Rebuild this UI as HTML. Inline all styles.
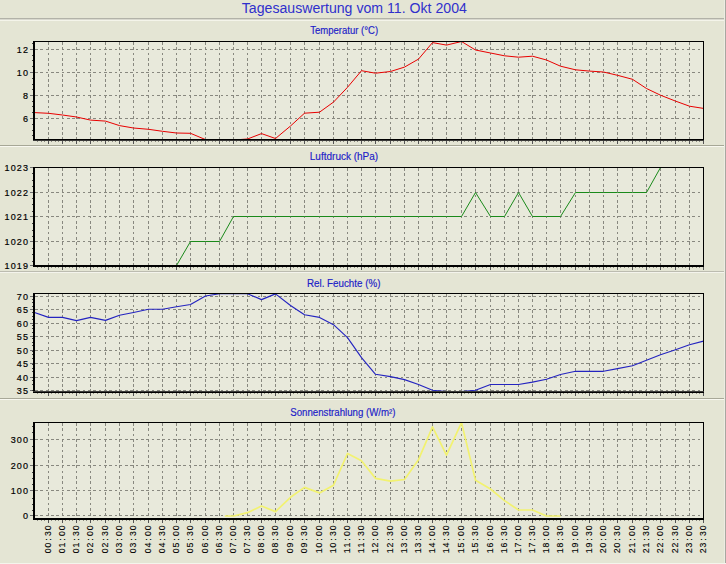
<!DOCTYPE html><html><head><meta charset="utf-8"><title>Tagesauswertung</title><style>
html,body{margin:0;padding:0;}body{width:726px;height:564px;overflow:hidden;background:#E4E5D4;}
svg{display:block;}
.mt{font-family:"Liberation Sans",Arial,sans-serif;font-size:14.7px;fill:#3030CC;}
.ct{font-family:"Liberation Sans",Arial,sans-serif;font-size:10px;fill:#2020C8;stroke:#2020C8;stroke-width:0.15px;}
.yl{font-family:"Liberation Sans",Arial,sans-serif;font-size:9.5px;fill:#000;stroke:#000;stroke-width:0.2px;}
.xl{font-family:"Liberation Sans",Arial,sans-serif;font-size:9.4px;fill:#000;stroke:#000;stroke-width:0.12px;}
</style></head><body>
<svg width="726" height="564" viewBox="0 0 726 564">
<rect width="726" height="564" fill="#E4E5D4"/>
<rect x="0" y="18" width="726" height="1" fill="#B2B2A8"/>
<rect x="0" y="19" width="726" height="1" fill="#D8D8CE"/>
<rect x="0" y="20" width="726" height="1" fill="#F4F4EA"/>
<rect x="0" y="145" width="726" height="1" fill="#A6A796"/>
<rect x="0" y="146" width="726" height="1" fill="#F8F8F0"/>
<rect x="0" y="271" width="726" height="1" fill="#BCBCB0"/>
<rect x="0" y="272" width="726" height="1" fill="#F4F4EC"/>
<rect x="0" y="398" width="726" height="1" fill="#A8A898"/>
<rect x="0" y="399" width="726" height="1" fill="#F8F8F0"/>
<rect x="724" y="0" width="1" height="564" fill="#ECECE2"/>
<rect x="725" y="0" width="1" height="564" fill="#A8A8A0"/>
<rect x="0" y="563" width="726" height="1" fill="#F4F4EC"/>
<text class="mt" transform="translate(354.3 13) scale(0.962 1)" x="0" y="0" text-anchor="middle">Tagesauswertung vom 11. Okt 2004</text>
<rect x="35" y="42" width="668" height="97" fill="#E8E9DB"/>
<path d="M48.5 42V139M62.5 42V139M76.5 42V139M90.5 42V139M105.5 42V139M119.5 42V139M133.5 42V139M148.5 42V139M162.5 42V139M176.5 42V139M190.5 42V139M205.5 42V139M219.5 42V139M233.5 42V139M247.5 42V139M261.5 42V139M275.5 42V139M290.5 42V139M304.5 42V139M319.5 42V139M333.5 42V139M347.5 42V139M361.5 42V139M375.5 42V139M390.5 42V139M404.5 42V139M418.5 42V139M432.5 42V139M446.5 42V139M461.5 42V139M475.5 42V139M490.5 42V139M504.5 42V139M518.5 42V139M532.5 42V139M546.5 42V139M560.5 42V139M575.5 42V139M589.5 42V139M603.5 42V139M617.5 42V139M632.5 42V139M646.5 42V139M660.5 42V139M675.5 42V139M689.5 42V139M35 49.5H703M35 72.5H703M35 95.5H703M35 118.5H703" stroke="#88887F" stroke-width="1" stroke-dasharray="2.7 2.6" fill="none" shape-rendering="crispEdges"/>
<clipPath id="c41"><rect x="33" y="41" width="671" height="100"/></clipPath>
<polyline clip-path="url(#c41)" points="34.50,112.60 48.50,113.30 62.50,115.00 76.50,117.00 90.50,120.10 105.50,121.10 119.50,125.60 133.50,128.00 148.50,129.30 162.50,131.30 176.50,133.00 190.50,133.30 205.50,139.60 219.50,140.00 233.50,140.00 247.50,139.00 261.50,133.60 275.50,138.50 290.50,126.00 304.50,113.20 319.50,112.20 333.50,102.10 347.50,87.30 361.50,70.70 375.50,73.20 390.50,71.50 404.50,67.10 418.50,59.10 432.50,42.60 446.50,45.10 461.50,41.50 475.50,50.00 490.50,53.00 504.50,55.80 518.50,57.20 532.50,56.20 546.50,60.00 560.50,66.20 575.50,69.80 589.50,71.10 603.50,72.00 617.50,75.30 632.50,79.30 646.50,88.50 660.50,95.20 675.50,101.10 689.50,106.20 703.50,108.40" stroke="#E80000" stroke-width="1" fill="none" stroke-linejoin="round"/>
<rect x="33" y="41" width="671" height="1" fill="#000000"/>
<rect x="703" y="41" width="1" height="100" fill="#000000"/>
<rect x="33" y="41" width="2" height="100" fill="#000000"/>
<rect x="33" y="139" width="671" height="1" fill="#000"/>
<rect x="33" y="140" width="671" height="1" fill="#3A3A38"/>
<path d="M48.5 141V144M62.5 141V144M76.5 141V144M90.5 141V144M105.5 141V144M119.5 141V144M133.5 141V144M148.5 141V144M162.5 141V144M176.5 141V144M190.5 141V144M205.5 141V144M219.5 141V144M233.5 141V144M247.5 141V144M261.5 141V144M275.5 141V144M290.5 141V144M304.5 141V144M319.5 141V144M333.5 141V144M347.5 141V144M361.5 141V144M375.5 141V144M390.5 141V144M404.5 141V144M418.5 141V144M432.5 141V144M446.5 141V144M461.5 141V144M475.5 141V144M490.5 141V144M504.5 141V144M518.5 141V144M532.5 141V144M546.5 141V144M560.5 141V144M575.5 141V144M589.5 141V144M603.5 141V144M617.5 141V144M632.5 141V144M646.5 141V144M660.5 141V144M675.5 141V144M689.5 141V144M703.5 141V144" stroke="#555" stroke-width="1" fill="none" shape-rendering="crispEdges"/>
<path d="M37.5 141V142M41.5 141V142M44.5 141V142M51.5 141V142M55.5 141V142M58.5 141V142M65.5 141V142M69.5 141V142M72.5 141V142M79.5 141V142M83.5 141V142M86.5 141V142M93.5 141V142M97.5 141V142M101.5 141V142M108.5 141V142M112.5 141V142M115.5 141V142M122.5 141V142M126.5 141V142M129.5 141V142M136.5 141V142M140.5 141V142M144.5 141V142M151.5 141V142M155.5 141V142M158.5 141V142M165.5 141V142M169.5 141V142M172.5 141V142M179.5 141V142M183.5 141V142M186.5 141V142M193.5 141V142M197.5 141V142M201.5 141V142M208.5 141V142M212.5 141V142M215.5 141V142M222.5 141V142M226.5 141V142M229.5 141V142M236.5 141V142M240.5 141V142M243.5 141V142M250.5 141V142M254.5 141V142M257.5 141V142M264.5 141V142M268.5 141V142M271.5 141V142M278.5 141V142M282.5 141V142M286.5 141V142M293.5 141V142M297.5 141V142M300.5 141V142M307.5 141V142M311.5 141V142M315.5 141V142M322.5 141V142M326.5 141V142M329.5 141V142M336.5 141V142M340.5 141V142M343.5 141V142M350.5 141V142M354.5 141V142M357.5 141V142M364.5 141V142M368.5 141V142M371.5 141V142M378.5 141V142M382.5 141V142M386.5 141V142M393.5 141V142M397.5 141V142M400.5 141V142M407.5 141V142M411.5 141V142M414.5 141V142M421.5 141V142M425.5 141V142M428.5 141V142M435.5 141V142M439.5 141V142M442.5 141V142M449.5 141V142M453.5 141V142M457.5 141V142M464.5 141V142M468.5 141V142M471.5 141V142M478.5 141V142M482.5 141V142M486.5 141V142M493.5 141V142M497.5 141V142M500.5 141V142M507.5 141V142M511.5 141V142M514.5 141V142M521.5 141V142M525.5 141V142M528.5 141V142M535.5 141V142M539.5 141V142M542.5 141V142M549.5 141V142M553.5 141V142M556.5 141V142M563.5 141V142M567.5 141V142M571.5 141V142M578.5 141V142M582.5 141V142M585.5 141V142M592.5 141V142M596.5 141V142M599.5 141V142M606.5 141V142M610.5 141V142M613.5 141V142M620.5 141V142M624.5 141V142M628.5 141V142M635.5 141V142M639.5 141V142M642.5 141V142M649.5 141V142M653.5 141V142M656.5 141V142M663.5 141V142M667.5 141V142M671.5 141V142M678.5 141V142M682.5 141V142M685.5 141V142M692.5 141V142M696.5 141V142M699.5 141V142" stroke="#8A8A80" stroke-width="1" fill="none" shape-rendering="crispEdges"/>
<text class="yl" transform="translate(0 52.9) scale(0.95 1)" x="17.68 24.11">12</text>
<text class="yl" transform="translate(0 75.9) scale(0.95 1)" x="17.68 24.11">10</text>
<text class="yl" transform="translate(0 98.9) scale(0.95 1)" x="24.11">8</text>
<text class="yl" transform="translate(0 121.9) scale(0.95 1)" x="24.11">6</text>
<path d="M30 49.5H33M30 72.5H33M30 95.5H33M30 118.5H33" stroke="#707070" stroke-width="1" fill="none" shape-rendering="crispEdges"/>
<path d="M32 43.5H33M32 55.5H33M32 60.5H33M32 66.5H33M32 78.5H33M32 84.5H33M32 89.5H33M32 101.5H33M32 106.5H33M32 112.5H33M32 124.5H33M32 130.5H33M32 135.5H33" stroke="#404040" stroke-width="1" fill="none" shape-rendering="crispEdges"/>
<text class="ct" transform="translate(344.2 33.5) scale(0.955 1)" x="0" y="0" text-anchor="middle">Temperatur (°C)</text>
<rect x="35" y="168" width="668" height="97" fill="#E8E9DB"/>
<path d="M48.5 168V265M62.5 168V265M76.5 168V265M90.5 168V265M105.5 168V265M119.5 168V265M133.5 168V265M148.5 168V265M162.5 168V265M176.5 168V265M190.5 168V265M205.5 168V265M219.5 168V265M233.5 168V265M247.5 168V265M261.5 168V265M275.5 168V265M290.5 168V265M304.5 168V265M319.5 168V265M333.5 168V265M347.5 168V265M361.5 168V265M375.5 168V265M390.5 168V265M404.5 168V265M418.5 168V265M432.5 168V265M446.5 168V265M461.5 168V265M475.5 168V265M490.5 168V265M504.5 168V265M518.5 168V265M532.5 168V265M546.5 168V265M560.5 168V265M575.5 168V265M589.5 168V265M603.5 168V265M617.5 168V265M632.5 168V265M646.5 168V265M660.5 168V265M675.5 168V265M689.5 168V265M35 192.5H703M35 216.5H703M35 241.5H703" stroke="#88887F" stroke-width="1" stroke-dasharray="2.7 2.6" fill="none" shape-rendering="crispEdges"/>
<clipPath id="c167"><rect x="33" y="167" width="671" height="100"/></clipPath>
<polyline clip-path="url(#c167)" points="34.50,265.50 48.50,265.50 62.50,265.50 76.50,265.50 90.50,265.50 105.50,265.50 119.50,265.50 133.50,265.50 148.50,265.50 162.50,265.50 176.50,265.50 190.50,241.50 205.50,241.50 219.50,241.50 233.50,216.50 247.50,216.50 261.50,216.50 275.50,216.50 290.50,216.50 304.50,216.50 319.50,216.50 333.50,216.50 347.50,216.50 361.50,216.50 375.50,216.50 390.50,216.50 404.50,216.50 418.50,216.50 432.50,216.50 446.50,216.50 461.50,216.50 475.50,192.50 490.50,216.50 504.50,216.50 518.50,192.50 532.50,216.50 546.50,216.50 560.50,216.50 575.50,192.50 589.50,192.50 603.50,192.50 617.50,192.50 632.50,192.50 646.50,192.50 660.50,167.50 675.50,167.50 689.50,167.50 703.50,167.50" stroke="#1A8A1A" stroke-width="1" fill="none" stroke-linejoin="round"/>
<rect x="33" y="167" width="671" height="1" fill="#000000"/>
<rect x="703" y="167" width="1" height="100" fill="#000000"/>
<rect x="33" y="167" width="2" height="100" fill="#000000"/>
<rect x="33" y="265" width="671" height="1" fill="#000000"/>
<rect x="33" y="266" width="671" height="1" fill="#000000"/>
<path d="M48.5 267V270M62.5 267V270M76.5 267V270M90.5 267V270M105.5 267V270M119.5 267V270M133.5 267V270M148.5 267V270M162.5 267V270M176.5 267V270M190.5 267V270M205.5 267V270M219.5 267V270M233.5 267V270M247.5 267V270M261.5 267V270M275.5 267V270M290.5 267V270M304.5 267V270M319.5 267V270M333.5 267V270M347.5 267V270M361.5 267V270M375.5 267V270M390.5 267V270M404.5 267V270M418.5 267V270M432.5 267V270M446.5 267V270M461.5 267V270M475.5 267V270M490.5 267V270M504.5 267V270M518.5 267V270M532.5 267V270M546.5 267V270M560.5 267V270M575.5 267V270M589.5 267V270M603.5 267V270M617.5 267V270M632.5 267V270M646.5 267V270M660.5 267V270M675.5 267V270M689.5 267V270M703.5 267V270" stroke="#555" stroke-width="1" fill="none" shape-rendering="crispEdges"/>
<path d="M37.5 267V268M41.5 267V268M44.5 267V268M51.5 267V268M55.5 267V268M58.5 267V268M65.5 267V268M69.5 267V268M72.5 267V268M79.5 267V268M83.5 267V268M86.5 267V268M93.5 267V268M97.5 267V268M101.5 267V268M108.5 267V268M112.5 267V268M115.5 267V268M122.5 267V268M126.5 267V268M129.5 267V268M136.5 267V268M140.5 267V268M144.5 267V268M151.5 267V268M155.5 267V268M158.5 267V268M165.5 267V268M169.5 267V268M172.5 267V268M179.5 267V268M183.5 267V268M186.5 267V268M193.5 267V268M197.5 267V268M201.5 267V268M208.5 267V268M212.5 267V268M215.5 267V268M222.5 267V268M226.5 267V268M229.5 267V268M236.5 267V268M240.5 267V268M243.5 267V268M250.5 267V268M254.5 267V268M257.5 267V268M264.5 267V268M268.5 267V268M271.5 267V268M278.5 267V268M282.5 267V268M286.5 267V268M293.5 267V268M297.5 267V268M300.5 267V268M307.5 267V268M311.5 267V268M315.5 267V268M322.5 267V268M326.5 267V268M329.5 267V268M336.5 267V268M340.5 267V268M343.5 267V268M350.5 267V268M354.5 267V268M357.5 267V268M364.5 267V268M368.5 267V268M371.5 267V268M378.5 267V268M382.5 267V268M386.5 267V268M393.5 267V268M397.5 267V268M400.5 267V268M407.5 267V268M411.5 267V268M414.5 267V268M421.5 267V268M425.5 267V268M428.5 267V268M435.5 267V268M439.5 267V268M442.5 267V268M449.5 267V268M453.5 267V268M457.5 267V268M464.5 267V268M468.5 267V268M471.5 267V268M478.5 267V268M482.5 267V268M486.5 267V268M493.5 267V268M497.5 267V268M500.5 267V268M507.5 267V268M511.5 267V268M514.5 267V268M521.5 267V268M525.5 267V268M528.5 267V268M535.5 267V268M539.5 267V268M542.5 267V268M549.5 267V268M553.5 267V268M556.5 267V268M563.5 267V268M567.5 267V268M571.5 267V268M578.5 267V268M582.5 267V268M585.5 267V268M592.5 267V268M596.5 267V268M599.5 267V268M606.5 267V268M610.5 267V268M613.5 267V268M620.5 267V268M624.5 267V268M628.5 267V268M635.5 267V268M639.5 267V268M642.5 267V268M649.5 267V268M653.5 267V268M656.5 267V268M663.5 267V268M667.5 267V268M671.5 267V268M678.5 267V268M682.5 267V268M685.5 267V268M692.5 267V268M696.5 267V268M699.5 267V268" stroke="#8A8A80" stroke-width="1" fill="none" shape-rendering="crispEdges"/>
<text class="yl" transform="translate(0 170.9) scale(0.95 1)" x="4.84 11.26 17.68 24.11">1023</text>
<text class="yl" transform="translate(0 195.9) scale(0.95 1)" x="4.84 11.26 17.68 24.11">1022</text>
<text class="yl" transform="translate(0 219.9) scale(0.95 1)" x="4.84 11.26 17.68 24.11">1021</text>
<text class="yl" transform="translate(0 244.9) scale(0.95 1)" x="4.84 11.26 17.68 24.11">1020</text>
<text class="yl" transform="translate(0 268.9) scale(0.95 1)" x="4.84 11.26 17.68 24.11">1019</text>
<path d="M30 167.5H33M30 192.5H33M30 216.5H33M30 241.5H33M30 265.5H33" stroke="#707070" stroke-width="1" fill="none" shape-rendering="crispEdges"/>
<path d="M32 173.5H33M32 180.5H33M32 186.5H33M32 198.5H33M32 204.5H33M32 211.5H33M32 223.5H33M32 230.5H33M32 236.5H33M32 248.5H33M32 254.5H33M32 261.5H33" stroke="#404040" stroke-width="1" fill="none" shape-rendering="crispEdges"/>
<text class="ct" transform="translate(344.0 160.0) scale(1.000 1)" x="0" y="0" text-anchor="middle">Luftdruck (hPa)</text>
<rect x="35" y="294" width="668" height="97" fill="#E8E9DB"/>
<path d="M48.5 294V391M62.5 294V391M76.5 294V391M90.5 294V391M105.5 294V391M119.5 294V391M133.5 294V391M148.5 294V391M162.5 294V391M176.5 294V391M190.5 294V391M205.5 294V391M219.5 294V391M233.5 294V391M247.5 294V391M261.5 294V391M275.5 294V391M290.5 294V391M304.5 294V391M319.5 294V391M333.5 294V391M347.5 294V391M361.5 294V391M375.5 294V391M390.5 294V391M404.5 294V391M418.5 294V391M432.5 294V391M446.5 294V391M461.5 294V391M475.5 294V391M490.5 294V391M504.5 294V391M518.5 294V391M532.5 294V391M546.5 294V391M560.5 294V391M575.5 294V391M589.5 294V391M603.5 294V391M617.5 294V391M632.5 294V391M646.5 294V391M660.5 294V391M675.5 294V391M689.5 294V391M35 296.5H703M35 309.5H703M35 323.5H703M35 336.5H703M35 350.5H703M35 363.5H703M35 377.5H703M35 390.5H703" stroke="#88887F" stroke-width="1" stroke-dasharray="2.7 2.6" fill="none" shape-rendering="crispEdges"/>
<clipPath id="c293"><rect x="33" y="293" width="671" height="100"/></clipPath>
<polyline clip-path="url(#c293)" points="34.50,312.50 48.50,317.40 62.50,317.40 76.50,320.60 90.50,317.40 105.50,320.40 119.50,315.30 133.50,312.50 148.50,309.30 162.50,309.20 176.50,306.70 190.50,304.50 205.50,296.00 219.50,293.80 233.50,293.60 247.50,293.80 261.50,299.60 275.50,293.90 290.50,305.50 304.50,314.80 319.50,317.40 333.50,324.70 347.50,337.60 361.50,357.70 375.50,374.30 390.50,376.60 404.50,379.60 418.50,384.50 432.50,390.30 446.50,391.50 461.50,391.50 475.50,390.30 490.50,384.50 504.50,384.50 518.50,384.50 532.50,382.10 546.50,379.30 560.50,374.50 575.50,371.30 589.50,371.30 603.50,371.30 617.50,368.60 632.50,365.70 646.50,360.20 660.50,354.70 675.50,349.70 689.50,344.80 703.50,341.10" stroke="#2424C0" stroke-width="1.15" fill="none" stroke-linejoin="round"/>
<rect x="33" y="293" width="671" height="1" fill="#000000"/>
<rect x="703" y="293" width="1" height="100" fill="#000000"/>
<rect x="33" y="293" width="2" height="100" fill="#000000"/>
<rect x="33" y="391" width="671" height="1" fill="#3A3A38"/>
<rect x="33" y="392" width="671" height="1" fill="#000"/>
<path d="M48.5 393V396M62.5 393V396M76.5 393V396M90.5 393V396M105.5 393V396M119.5 393V396M133.5 393V396M148.5 393V396M162.5 393V396M176.5 393V396M190.5 393V396M205.5 393V396M219.5 393V396M233.5 393V396M247.5 393V396M261.5 393V396M275.5 393V396M290.5 393V396M304.5 393V396M319.5 393V396M333.5 393V396M347.5 393V396M361.5 393V396M375.5 393V396M390.5 393V396M404.5 393V396M418.5 393V396M432.5 393V396M446.5 393V396M461.5 393V396M475.5 393V396M490.5 393V396M504.5 393V396M518.5 393V396M532.5 393V396M546.5 393V396M560.5 393V396M575.5 393V396M589.5 393V396M603.5 393V396M617.5 393V396M632.5 393V396M646.5 393V396M660.5 393V396M675.5 393V396M689.5 393V396M703.5 393V396" stroke="#555" stroke-width="1" fill="none" shape-rendering="crispEdges"/>
<path d="M37.5 393V394M41.5 393V394M44.5 393V394M51.5 393V394M55.5 393V394M58.5 393V394M65.5 393V394M69.5 393V394M72.5 393V394M79.5 393V394M83.5 393V394M86.5 393V394M93.5 393V394M97.5 393V394M101.5 393V394M108.5 393V394M112.5 393V394M115.5 393V394M122.5 393V394M126.5 393V394M129.5 393V394M136.5 393V394M140.5 393V394M144.5 393V394M151.5 393V394M155.5 393V394M158.5 393V394M165.5 393V394M169.5 393V394M172.5 393V394M179.5 393V394M183.5 393V394M186.5 393V394M193.5 393V394M197.5 393V394M201.5 393V394M208.5 393V394M212.5 393V394M215.5 393V394M222.5 393V394M226.5 393V394M229.5 393V394M236.5 393V394M240.5 393V394M243.5 393V394M250.5 393V394M254.5 393V394M257.5 393V394M264.5 393V394M268.5 393V394M271.5 393V394M278.5 393V394M282.5 393V394M286.5 393V394M293.5 393V394M297.5 393V394M300.5 393V394M307.5 393V394M311.5 393V394M315.5 393V394M322.5 393V394M326.5 393V394M329.5 393V394M336.5 393V394M340.5 393V394M343.5 393V394M350.5 393V394M354.5 393V394M357.5 393V394M364.5 393V394M368.5 393V394M371.5 393V394M378.5 393V394M382.5 393V394M386.5 393V394M393.5 393V394M397.5 393V394M400.5 393V394M407.5 393V394M411.5 393V394M414.5 393V394M421.5 393V394M425.5 393V394M428.5 393V394M435.5 393V394M439.5 393V394M442.5 393V394M449.5 393V394M453.5 393V394M457.5 393V394M464.5 393V394M468.5 393V394M471.5 393V394M478.5 393V394M482.5 393V394M486.5 393V394M493.5 393V394M497.5 393V394M500.5 393V394M507.5 393V394M511.5 393V394M514.5 393V394M521.5 393V394M525.5 393V394M528.5 393V394M535.5 393V394M539.5 393V394M542.5 393V394M549.5 393V394M553.5 393V394M556.5 393V394M563.5 393V394M567.5 393V394M571.5 393V394M578.5 393V394M582.5 393V394M585.5 393V394M592.5 393V394M596.5 393V394M599.5 393V394M606.5 393V394M610.5 393V394M613.5 393V394M620.5 393V394M624.5 393V394M628.5 393V394M635.5 393V394M639.5 393V394M642.5 393V394M649.5 393V394M653.5 393V394M656.5 393V394M663.5 393V394M667.5 393V394M671.5 393V394M678.5 393V394M682.5 393V394M685.5 393V394M692.5 393V394M696.5 393V394M699.5 393V394" stroke="#8A8A80" stroke-width="1" fill="none" shape-rendering="crispEdges"/>
<text class="yl" transform="translate(0 299.9) scale(0.95 1)" x="17.68 24.11">70</text>
<text class="yl" transform="translate(0 312.9) scale(0.95 1)" x="17.68 24.11">65</text>
<text class="yl" transform="translate(0 326.9) scale(0.95 1)" x="17.68 24.11">60</text>
<text class="yl" transform="translate(0 339.9) scale(0.95 1)" x="17.68 24.11">55</text>
<text class="yl" transform="translate(0 353.9) scale(0.95 1)" x="17.68 24.11">50</text>
<text class="yl" transform="translate(0 366.9) scale(0.95 1)" x="17.68 24.11">45</text>
<text class="yl" transform="translate(0 380.9) scale(0.95 1)" x="17.68 24.11">40</text>
<text class="yl" transform="translate(0 393.9) scale(0.95 1)" x="17.68 24.11">35</text>
<path d="M30 296.5H33M30 309.5H33M30 323.5H33M30 336.5H33M30 350.5H33M30 363.5H33M30 377.5H33M30 390.5H33" stroke="#707070" stroke-width="1" fill="none" shape-rendering="crispEdges"/>
<path d="M32 299.5H33M32 302.5H33M32 306.5H33M32 312.5H33M32 316.5H33M32 319.5H33M32 325.5H33M32 328.5H33M32 332.5H33M32 338.5H33M32 342.5H33M32 345.5H33M32 351.5H33M32 354.5H33M32 358.5H33M32 364.5H33M32 368.5H33M32 371.5H33M32 377.5H33M32 380.5H33M32 384.5H33M32 390.5H33" stroke="#404040" stroke-width="1" fill="none" shape-rendering="crispEdges"/>
<text class="ct" transform="translate(343.7 286.5) scale(0.980 1)" x="0" y="0" text-anchor="middle">Rel. Feuchte (%)</text>
<rect x="35" y="423" width="668" height="95" fill="#E8E9DB"/>
<path d="M48.5 423V518M62.5 423V518M76.5 423V518M90.5 423V518M105.5 423V518M119.5 423V518M133.5 423V518M148.5 423V518M162.5 423V518M176.5 423V518M190.5 423V518M205.5 423V518M219.5 423V518M233.5 423V518M247.5 423V518M261.5 423V518M275.5 423V518M290.5 423V518M304.5 423V518M319.5 423V518M333.5 423V518M347.5 423V518M361.5 423V518M375.5 423V518M390.5 423V518M404.5 423V518M418.5 423V518M432.5 423V518M446.5 423V518M461.5 423V518M475.5 423V518M490.5 423V518M504.5 423V518M518.5 423V518M532.5 423V518M546.5 423V518M560.5 423V518M575.5 423V518M589.5 423V518M603.5 423V518M617.5 423V518M632.5 423V518M646.5 423V518M660.5 423V518M675.5 423V518M689.5 423V518M35 439.5H703M35 465.5H703M35 490.5H703M35 515.5H703" stroke="#88887F" stroke-width="1" stroke-dasharray="2.7 2.6" fill="none" shape-rendering="crispEdges"/>
<clipPath id="c422"><rect x="33" y="422" width="671" height="98"/></clipPath>
<polyline clip-path="url(#c422)" points="224.82,516.00 233.50,516.00 247.50,512.70 261.50,506.00 275.50,511.60 290.50,497.30 304.50,487.40 319.50,492.90 333.50,485.20 347.50,453.50 361.50,460.80 375.50,478.40 390.50,481.20 404.50,479.50 418.50,459.70 432.50,426.80 446.50,455.20 461.50,422.60 475.50,480.20 490.50,489.00 504.50,500.60 518.50,510.00 532.50,510.00 546.50,516.00 560.50,516.00" stroke="#F2F270" stroke-width="1.7" fill="none" stroke-linejoin="round"/>
<rect x="33" y="422" width="671" height="1" fill="#000000"/>
<rect x="703" y="422" width="1" height="98" fill="#000000"/>
<rect x="33" y="422" width="2" height="98" fill="#000000"/>
<rect x="33" y="518" width="671" height="1" fill="#000000"/>
<rect x="33" y="519" width="671" height="1" fill="#000000"/>
<path d="M48.5 520V523M62.5 520V523M76.5 520V523M90.5 520V523M105.5 520V523M119.5 520V523M133.5 520V523M148.5 520V523M162.5 520V523M176.5 520V523M190.5 520V523M205.5 520V523M219.5 520V523M233.5 520V523M247.5 520V523M261.5 520V523M275.5 520V523M290.5 520V523M304.5 520V523M319.5 520V523M333.5 520V523M347.5 520V523M361.5 520V523M375.5 520V523M390.5 520V523M404.5 520V523M418.5 520V523M432.5 520V523M446.5 520V523M461.5 520V523M475.5 520V523M490.5 520V523M504.5 520V523M518.5 520V523M532.5 520V523M546.5 520V523M560.5 520V523M575.5 520V523M589.5 520V523M603.5 520V523M617.5 520V523M632.5 520V523M646.5 520V523M660.5 520V523M675.5 520V523M689.5 520V523M703.5 520V523" stroke="#555" stroke-width="1" fill="none" shape-rendering="crispEdges"/>
<path d="M37.5 520V521M41.5 520V521M44.5 520V521M51.5 520V521M55.5 520V521M58.5 520V521M65.5 520V521M69.5 520V521M72.5 520V521M79.5 520V521M83.5 520V521M86.5 520V521M93.5 520V521M97.5 520V521M101.5 520V521M108.5 520V521M112.5 520V521M115.5 520V521M122.5 520V521M126.5 520V521M129.5 520V521M136.5 520V521M140.5 520V521M144.5 520V521M151.5 520V521M155.5 520V521M158.5 520V521M165.5 520V521M169.5 520V521M172.5 520V521M179.5 520V521M183.5 520V521M186.5 520V521M193.5 520V521M197.5 520V521M201.5 520V521M208.5 520V521M212.5 520V521M215.5 520V521M222.5 520V521M226.5 520V521M229.5 520V521M236.5 520V521M240.5 520V521M243.5 520V521M250.5 520V521M254.5 520V521M257.5 520V521M264.5 520V521M268.5 520V521M271.5 520V521M278.5 520V521M282.5 520V521M286.5 520V521M293.5 520V521M297.5 520V521M300.5 520V521M307.5 520V521M311.5 520V521M315.5 520V521M322.5 520V521M326.5 520V521M329.5 520V521M336.5 520V521M340.5 520V521M343.5 520V521M350.5 520V521M354.5 520V521M357.5 520V521M364.5 520V521M368.5 520V521M371.5 520V521M378.5 520V521M382.5 520V521M386.5 520V521M393.5 520V521M397.5 520V521M400.5 520V521M407.5 520V521M411.5 520V521M414.5 520V521M421.5 520V521M425.5 520V521M428.5 520V521M435.5 520V521M439.5 520V521M442.5 520V521M449.5 520V521M453.5 520V521M457.5 520V521M464.5 520V521M468.5 520V521M471.5 520V521M478.5 520V521M482.5 520V521M486.5 520V521M493.5 520V521M497.5 520V521M500.5 520V521M507.5 520V521M511.5 520V521M514.5 520V521M521.5 520V521M525.5 520V521M528.5 520V521M535.5 520V521M539.5 520V521M542.5 520V521M549.5 520V521M553.5 520V521M556.5 520V521M563.5 520V521M567.5 520V521M571.5 520V521M578.5 520V521M582.5 520V521M585.5 520V521M592.5 520V521M596.5 520V521M599.5 520V521M606.5 520V521M610.5 520V521M613.5 520V521M620.5 520V521M624.5 520V521M628.5 520V521M635.5 520V521M639.5 520V521M642.5 520V521M649.5 520V521M653.5 520V521M656.5 520V521M663.5 520V521M667.5 520V521M671.5 520V521M678.5 520V521M682.5 520V521M685.5 520V521M692.5 520V521M696.5 520V521M699.5 520V521" stroke="#8A8A80" stroke-width="1" fill="none" shape-rendering="crispEdges"/>
<text class="yl" transform="translate(0 442.9) scale(0.95 1)" x="11.26 17.68 24.11">300</text>
<text class="yl" transform="translate(0 468.9) scale(0.95 1)" x="11.26 17.68 24.11">200</text>
<text class="yl" transform="translate(0 493.9) scale(0.95 1)" x="11.26 17.68 24.11">100</text>
<text class="yl" transform="translate(0 518.9) scale(0.95 1)" x="24.11">0</text>
<path d="M30 439.5H33M30 465.5H33M30 490.5H33M30 515.5H33" stroke="#707070" stroke-width="1" fill="none" shape-rendering="crispEdges"/>
<path d="M32 426.5H33M32 432.5H33M32 446.5H33M32 452.5H33M32 458.5H33M32 472.5H33M32 478.5H33M32 484.5H33M32 498.5H33M32 504.5H33M32 510.5H33" stroke="#404040" stroke-width="1" fill="none" shape-rendering="crispEdges"/>
<text class="ct" transform="translate(342.9 415.8) scale(0.968 1)" x="0" y="0" text-anchor="middle">Sonnenstrahlung (W/m²)</text>
<text class="xl" transform="translate(50.6 553.8) rotate(-90) scale(0.93 1)" x="0.70 6.88 13.98 19.25 25.43">00:30</text>
<text class="xl" transform="translate(64.6 553.8) rotate(-90) scale(0.93 1)" x="0.70 6.88 13.98 19.25 25.43">01:00</text>
<text class="xl" transform="translate(78.6 553.8) rotate(-90) scale(0.93 1)" x="0.70 6.88 13.98 19.25 25.43">01:30</text>
<text class="xl" transform="translate(92.6 553.8) rotate(-90) scale(0.93 1)" x="0.70 6.88 13.98 19.25 25.43">02:00</text>
<text class="xl" transform="translate(107.6 553.8) rotate(-90) scale(0.93 1)" x="0.70 6.88 13.98 19.25 25.43">02:30</text>
<text class="xl" transform="translate(121.6 553.8) rotate(-90) scale(0.93 1)" x="0.70 6.88 13.98 19.25 25.43">03:00</text>
<text class="xl" transform="translate(135.6 553.8) rotate(-90) scale(0.93 1)" x="0.70 6.88 13.98 19.25 25.43">03:30</text>
<text class="xl" transform="translate(150.6 553.8) rotate(-90) scale(0.93 1)" x="0.70 6.88 13.98 19.25 25.43">04:00</text>
<text class="xl" transform="translate(164.6 553.8) rotate(-90) scale(0.93 1)" x="0.70 6.88 13.98 19.25 25.43">04:30</text>
<text class="xl" transform="translate(178.6 553.8) rotate(-90) scale(0.93 1)" x="0.70 6.88 13.98 19.25 25.43">05:00</text>
<text class="xl" transform="translate(192.6 553.8) rotate(-90) scale(0.93 1)" x="0.70 6.88 13.98 19.25 25.43">05:30</text>
<text class="xl" transform="translate(207.6 553.8) rotate(-90) scale(0.93 1)" x="0.70 6.88 13.98 19.25 25.43">06:00</text>
<text class="xl" transform="translate(221.6 553.8) rotate(-90) scale(0.93 1)" x="0.70 6.88 13.98 19.25 25.43">06:30</text>
<text class="xl" transform="translate(235.6 553.8) rotate(-90) scale(0.93 1)" x="0.70 6.88 13.98 19.25 25.43">07:00</text>
<text class="xl" transform="translate(249.6 553.8) rotate(-90) scale(0.93 1)" x="0.70 6.88 13.98 19.25 25.43">07:30</text>
<text class="xl" transform="translate(263.6 553.8) rotate(-90) scale(0.93 1)" x="0.70 6.88 13.98 19.25 25.43">08:00</text>
<text class="xl" transform="translate(277.6 553.8) rotate(-90) scale(0.93 1)" x="0.70 6.88 13.98 19.25 25.43">08:30</text>
<text class="xl" transform="translate(292.6 553.8) rotate(-90) scale(0.93 1)" x="0.70 6.88 13.98 19.25 25.43">09:00</text>
<text class="xl" transform="translate(306.6 553.8) rotate(-90) scale(0.93 1)" x="0.70 6.88 13.98 19.25 25.43">09:30</text>
<text class="xl" transform="translate(321.6 553.8) rotate(-90) scale(0.93 1)" x="0.70 6.88 13.98 19.25 25.43">10:00</text>
<text class="xl" transform="translate(335.6 553.8) rotate(-90) scale(0.93 1)" x="0.70 6.88 13.98 19.25 25.43">10:30</text>
<text class="xl" transform="translate(349.6 553.8) rotate(-90) scale(0.93 1)" x="0.70 6.88 13.98 19.25 25.43">11:00</text>
<text class="xl" transform="translate(363.6 553.8) rotate(-90) scale(0.93 1)" x="0.70 6.88 13.98 19.25 25.43">11:30</text>
<text class="xl" transform="translate(377.6 553.8) rotate(-90) scale(0.93 1)" x="0.70 6.88 13.98 19.25 25.43">12:00</text>
<text class="xl" transform="translate(392.6 553.8) rotate(-90) scale(0.93 1)" x="0.70 6.88 13.98 19.25 25.43">12:30</text>
<text class="xl" transform="translate(406.6 553.8) rotate(-90) scale(0.93 1)" x="0.70 6.88 13.98 19.25 25.43">13:00</text>
<text class="xl" transform="translate(420.6 553.8) rotate(-90) scale(0.93 1)" x="0.70 6.88 13.98 19.25 25.43">13:30</text>
<text class="xl" transform="translate(434.6 553.8) rotate(-90) scale(0.93 1)" x="0.70 6.88 13.98 19.25 25.43">14:00</text>
<text class="xl" transform="translate(448.6 553.8) rotate(-90) scale(0.93 1)" x="0.70 6.88 13.98 19.25 25.43">14:30</text>
<text class="xl" transform="translate(463.6 553.8) rotate(-90) scale(0.93 1)" x="0.70 6.88 13.98 19.25 25.43">15:00</text>
<text class="xl" transform="translate(477.6 553.8) rotate(-90) scale(0.93 1)" x="0.70 6.88 13.98 19.25 25.43">15:30</text>
<text class="xl" transform="translate(492.6 553.8) rotate(-90) scale(0.93 1)" x="0.70 6.88 13.98 19.25 25.43">16:00</text>
<text class="xl" transform="translate(506.6 553.8) rotate(-90) scale(0.93 1)" x="0.70 6.88 13.98 19.25 25.43">16:30</text>
<text class="xl" transform="translate(520.6 553.8) rotate(-90) scale(0.93 1)" x="0.70 6.88 13.98 19.25 25.43">17:00</text>
<text class="xl" transform="translate(534.6 553.8) rotate(-90) scale(0.93 1)" x="0.70 6.88 13.98 19.25 25.43">17:30</text>
<text class="xl" transform="translate(548.6 553.8) rotate(-90) scale(0.93 1)" x="0.70 6.88 13.98 19.25 25.43">18:00</text>
<text class="xl" transform="translate(562.6 553.8) rotate(-90) scale(0.93 1)" x="0.70 6.88 13.98 19.25 25.43">18:30</text>
<text class="xl" transform="translate(577.6 553.8) rotate(-90) scale(0.93 1)" x="0.70 6.88 13.98 19.25 25.43">19:00</text>
<text class="xl" transform="translate(591.6 553.8) rotate(-90) scale(0.93 1)" x="0.70 6.88 13.98 19.25 25.43">19:30</text>
<text class="xl" transform="translate(605.6 553.8) rotate(-90) scale(0.93 1)" x="0.70 6.88 13.98 19.25 25.43">20:00</text>
<text class="xl" transform="translate(619.6 553.8) rotate(-90) scale(0.93 1)" x="0.70 6.88 13.98 19.25 25.43">20:30</text>
<text class="xl" transform="translate(634.6 553.8) rotate(-90) scale(0.93 1)" x="0.70 6.88 13.98 19.25 25.43">21:00</text>
<text class="xl" transform="translate(648.6 553.8) rotate(-90) scale(0.93 1)" x="0.70 6.88 13.98 19.25 25.43">21:30</text>
<text class="xl" transform="translate(662.6 553.8) rotate(-90) scale(0.93 1)" x="0.70 6.88 13.98 19.25 25.43">22:00</text>
<text class="xl" transform="translate(677.6 553.8) rotate(-90) scale(0.93 1)" x="0.70 6.88 13.98 19.25 25.43">22:30</text>
<text class="xl" transform="translate(691.6 553.8) rotate(-90) scale(0.93 1)" x="0.70 6.88 13.98 19.25 25.43">23:00</text>
<text class="xl" transform="translate(705.6 553.8) rotate(-90) scale(0.93 1)" x="0.70 6.88 13.98 19.25 25.43">23:30</text>
</svg></body></html>
